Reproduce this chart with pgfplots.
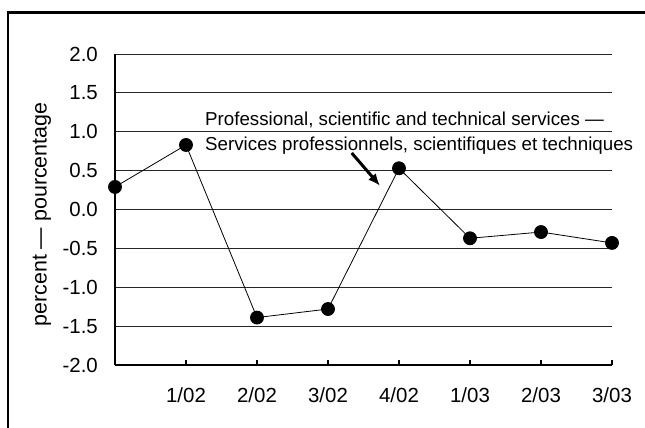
\documentclass[border=0pt]{standalone}
\usepackage{pgfplots}
\pgfplotsset{compat=1.18}
\usetikzlibrary{arrows.meta}
\usepackage{fontspec}
\setmainfont{Liberation Sans}
\begin{document}
\begin{tikzpicture}
\path[use as bounding box] (-115bp,-63bp) rectangle (530bp,365bp);
\draw[line width=2.5bp] (-107bp,-70bp) -- (-107bp,352.5bp) -- (540bp,352.5bp);
\begin{axis}[
  at={(0,0)}, anchor=south west,
  scale only axis, width=497bp, height=311bp,
  xmin=0, xmax=7, ymin=-2, ymax=2,
  axis x line=bottom, axis y line=left,
  axis line style={-, line width=2bp},
  xtick={1,2,3,4,5,6,7},
  xticklabels={1/02,2/02,3/02,4/02,1/03,2/03,3/03},
  ytick={-2,-1.5,-1,-0.5,0,0.5,1,1.5,2},
  yticklabel style={/pgf/number format/fixed, /pgf/number format/fixed zerofill, /pgf/number format/precision=1},
  /pgf/number format/assume math mode=true,
  tick align=inside,
  major tick length=5bp,
  xtick style={line width=1.5bp, black},
  ytick style={draw=none},
  ymajorgrids, major grid style={black!85, line width=0.8bp},
  tick label style={font=\fontsize{20.5}{24}\selectfont, inner sep=0pt},
  x tick label style={anchor=north, yshift=-23bp},
  y tick label style={anchor=east, xshift=-17bp},
  ylabel={percent — pourcentage},
  every axis y label/.style={at={(rel axis cs:0,0.484)}, xshift=-73bp, rotate=90, anchor=center, font=\fontsize{21.5}{24}\selectfont},
  clip=false,
]
\addplot[black, line width=0.8bp, mark=*, mark size=6.5bp, mark options={fill=black, draw=black}]
  coordinates {(0,0.29) (1,0.83) (2,-1.39) (3,-1.28) (4,0.53) (5,-0.37) (6,-0.29) (7,-0.43)};
\node[anchor=base west, inner sep=0pt, font=\fontsize{18.8}{22}\selectfont] at (axis cs:1.268,1.078) {Professional, scientific and technical services —};
\node[anchor=base west, inner sep=0pt, font=\fontsize{18.8}{22}\selectfont] at (axis cs:1.268,0.756) {Services professionnels, scientifiques et techniques};
\draw[-{Latex[length=12bp,width=10bp]}, line width=3bp] (axis cs:3.334,0.727) -- (axis cs:3.732,0.306);
\end{axis}
\end{tikzpicture}
\end{document}
